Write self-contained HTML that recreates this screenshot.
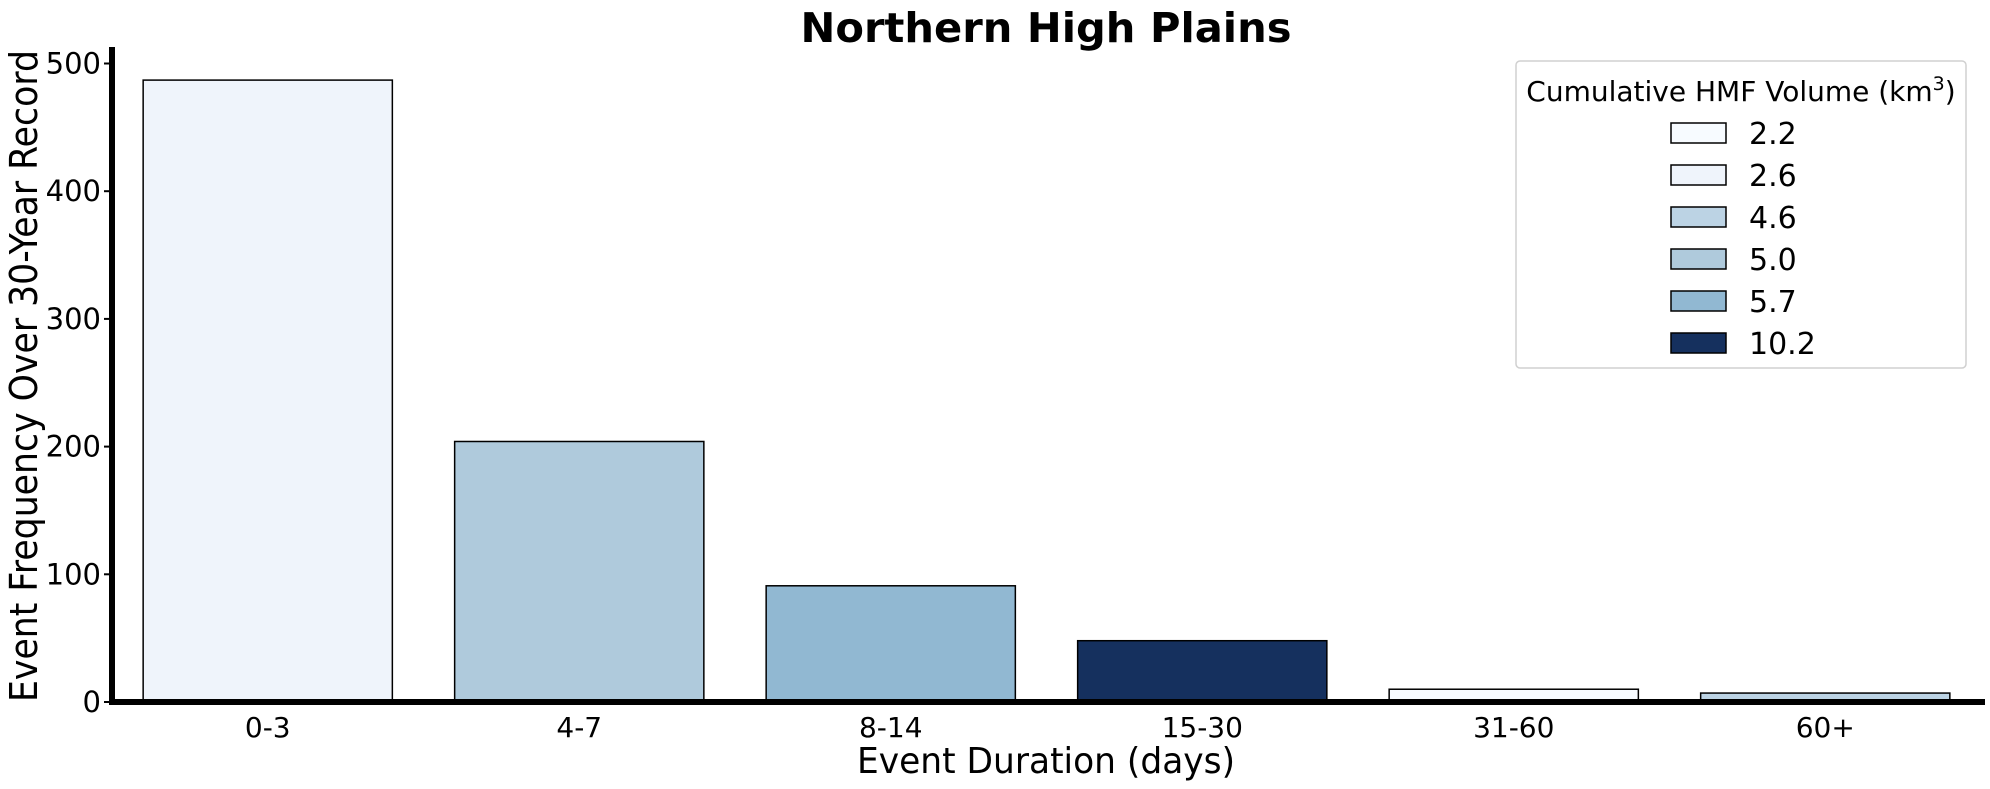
<!DOCTYPE html>
<html><head><meta charset="utf-8"><style>
body{margin:0;background:#fff;}
svg{display:block;font-family:"DejaVu Sans","Liberation Sans",sans-serif;}
</style></head><body>
<svg id="chart" width="1990" height="789" viewBox="0 0 1990 789">
<text x="1046" y="42" text-anchor="middle" font-size="41" font-weight="bold" textLength="491" lengthAdjust="spacingAndGlyphs">Northern High Plains</text>
<text transform="translate(37,376) rotate(-90)" text-anchor="middle" font-size="38" textLength="652" lengthAdjust="spacingAndGlyphs">Event Frequency Over 30-Year Record</text>
<text x="1046" y="773" text-anchor="middle" font-size="36" textLength="378" lengthAdjust="spacingAndGlyphs">Event Duration (days)</text>
<g id="bars"></g><g id="yticks"></g><g id="xticks"></g>
<line x1="112" y1="47" x2="112" y2="705" stroke="#000" stroke-width="6"/>
<line x1="109" y1="702" x2="1985" y2="702" stroke="#000" stroke-width="6"/>
<g>
<rect x="1516" y="61" width="450" height="307" rx="4" fill="#fff" stroke="#d0d0d0" stroke-width="1.5"/>
<text x="1741" y="101" text-anchor="middle" font-size="28">Cumulative HMF Volume (km<tspan font-size="19" dy="-11">3</tspan><tspan dy="11">)</tspan></text>
<g id="legend-entries"></g>
</g>
</svg>
<script>
const categories=["0-3","4-7","8-14","15-30","31-60","60+"];
const values=[487,204,91,48,10,7];
const barColors=["#eff4fb","#afcadc","#91b8d2","#15305e","#f7fbff","#bcd3e4"];
const yTicks=[0,100,200,300,400,500];
const legendLabels=["2.2","2.6","4.6","5.0","5.7","10.2"];
const legendColors=["#f7fbff","#eff4fb","#bcd3e4","#afcadc","#91b8d2","#15305e"];
const NS="http://www.w3.org/2000/svg";
const x0=112,step=311.5,y0=702,pxPer=1.277;
const xc=i=>x0+step*(i+0.5);
const y=v=>y0-v*pxPer;
function mk(tag,attrs,parent){const e=document.createElementNS(NS,tag);for(const k in attrs)e.setAttribute(k,attrs[k]);parent.appendChild(e);return e;}
const bars=document.getElementById('bars');
categories.forEach((c,i)=>{
 const w=step*0.8;
 const r=mk('rect',{x:xc(i)-w/2,y:y(values[i]),width:w,height:values[i]*pxPer,fill:barColors[i],stroke:'#000','stroke-width':1.5},bars);
 
 
 const t=mk('text',{x:xc(i),y:737,'text-anchor':'middle','font-size':28},document.getElementById('xticks'));
 t.textContent=c;
 
 
});
yTicks.forEach(v=>{
 const g=document.getElementById('yticks');
 const l=mk('line',{x1:104,x2:112,y1:y(v),y2:y(v),stroke:'#000','stroke-width':2},g);
 
 
 const t=mk('text',{x:101,y:y(v)+10,'text-anchor':'end','font-size':29},g);
 t.textContent=v;
 
 
});
const le=document.getElementById('legend-entries');
legendLabels.forEach((lab,i)=>{
 const cy=133+i*42;
 const r=mk('rect',{x:1671,y:cy-10,width:55,height:20,fill:legendColors[i],stroke:'#000','stroke-width':1.5},le);
 
 
 const t=mk('text',{x:1749,y:cy+11,'font-size':30},le);
 t.textContent=lab;
 
 
});
</script>
</body></html>
